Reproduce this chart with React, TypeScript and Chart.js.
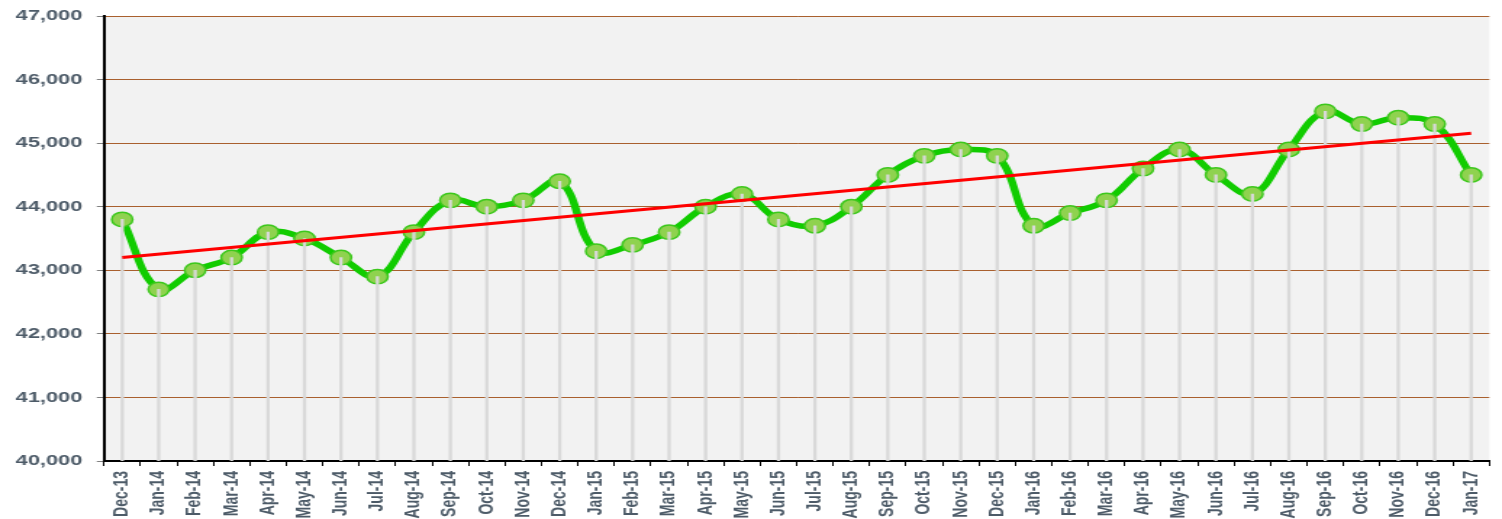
import React, { useEffect, useRef } from "react";
import { Chart, registerables } from "chart.js";

Chart.register(...registerables);

const categories = [
  "Dec-13", "Jan-14", "Feb-14", "Mar-14", "Apr-14", "May-14", "Jun-14", "Jul-14",
  "Aug-14", "Sep-14", "Oct-14", "Nov-14", "Dec-14", "Jan-15", "Feb-15", "Mar-15",
  "Apr-15", "May-15", "Jun-15", "Jul-15", "Aug-15", "Sep-15", "Oct-15", "Nov-15",
  "Dec-15", "Jan-16", "Feb-16", "Mar-16", "Apr-16", "May-16", "Jun-16", "Jul-16",
  "Aug-16", "Sep-16", "Oct-16", "Nov-16", "Dec-16", "Jan-17",
];

const values = [
  43800, 42700, 43000, 43200, 43600, 43500, 43200, 42900,
  43600, 44100, 44000, 44100, 44400, 43300, 43400, 43600,
  44000, 44200, 43800, 43700, 44000, 44500, 44800, 44900,
  44800, 43700, 43900, 44100, 44600, 44900, 44500, 44200,
  44900, 45500, 45300, 45400, 45300, 44500,
];

const trendStart = 43200;
const trendEnd = 45155;

const yMin = 40000;
const yMax = 47000;
const yStep = 1000;

// The reference picture is horizontally stretched; render narrower and stretch via CSS.
const OUT_W = 1502;
const OUT_H = 519;
const STRETCH = 1.45;
const INNER_W = Math.round(OUT_W / STRETCH);

const bgPlugin = {
  id: "plotBg",
  beforeDraw(chart: any) {
    const { ctx, chartArea } = chart;
    if (!chartArea) return;
    ctx.save();
    ctx.fillStyle = "#f2f2f2";
    ctx.fillRect(chartArea.left, chartArea.top, chartArea.right - chartArea.left, chartArea.bottom - chartArea.top);
    ctx.restore();
  },
};

export default function App() {
  const ref = useRef<HTMLCanvasElement>(null);

  useEffect(() => {
    if (!ref.current) return;
    const trend = categories.map((_, i) =>
      i === 0 ? trendStart : i === categories.length - 1 ? trendEnd : null
    );
    const chart = new Chart(ref.current, {
      type: "line",
      data: {
        labels: categories,
        datasets: [
          {
            type: "line",
            label: "Trend",
            data: trend,
            borderColor: "#ff0000",
            borderWidth: 3,
            pointRadius: 0,
            spanGaps: true,
            tension: 0,
            order: 0,
          },
          {
            type: "bar",
            label: "drop",
            data: values,
            backgroundColor: "#d9d9d9",
            barThickness: 1.6,
            order: 1,
          },
          {
            type: "line",
            label: "Value",
            data: values,
            borderColor: "#11cc00",
            borderWidth: 5.5,
            tension: 0.4,
            pointStyle: "circle",
            pointRadius: 7.2,
            pointBackgroundColor: "#8fd24f",
            pointBorderColor: "#3cc81c",
            pointBorderWidth: 1.5,
            order: 2,
          },
        ] as any,
      },
      options: {
        animation: false,
        responsive: false,
        events: [],
        layout: { padding: { left: 0, top: 16, right: INNER_W - 1491 / STRETCH, bottom: 0 } },
        plugins: { legend: { display: false }, tooltip: { enabled: false } },
        scales: {
          x: {
            offset: true,
            grid: {
              display: true,
              drawOnChartArea: false,
              drawTicks: true,
              tickLength: 5,
              tickColor: "#000000",
              offset: true,
            },
            border: { color: "#000000", width: 2 },
            ticks: {
              autoSkip: false,
              maxRotation: 90,
              minRotation: 90,
              padding: 5,
              color: "#4d5b68",
              font: { family: "'Liberation Sans', Arial, sans-serif", size: 14, weight: "bold" },
            },
            afterFit(scale: any) {
              scale.height = OUT_H - 461;
              scale.paddingLeft = 0;
              scale.paddingRight = 0;
            },
          },
          y: {
            min: yMin,
            max: yMax,
            grid: {
              color: "#a9602e",
              lineWidth: 1,
              drawTicks: true,
              tickLength: 5,
              tickColor: "#808080",
            },
            border: { color: "#000000", width: 2 },
            ticks: {
              stepSize: yStep,
              padding: 10,
              color: "#4d5b68",
              font: { family: "'Liberation Sans', Arial, sans-serif", size: 15, weight: "bold" },
              callback: (v: any) => Number(v).toLocaleString("en-US"),
            },
            afterFit(scale: any) {
              scale.width = 104 / STRETCH;
              scale.paddingTop = 0;
              scale.paddingBottom = 0;
            },
          },
        },
      } as any,
      plugins: [bgPlugin],
    });
    return () => chart.destroy();
  }, []);

  return (
    <div style={{ position: "fixed", left: 0, top: 0, width: OUT_W, height: OUT_H, background: "#ffffff" }}>
      <canvas
        ref={ref}
        width={INNER_W}
        height={OUT_H}
        style={{ display: "block", width: OUT_W + "px", height: OUT_H + "px" }}
      />
    </div>
  );
}
